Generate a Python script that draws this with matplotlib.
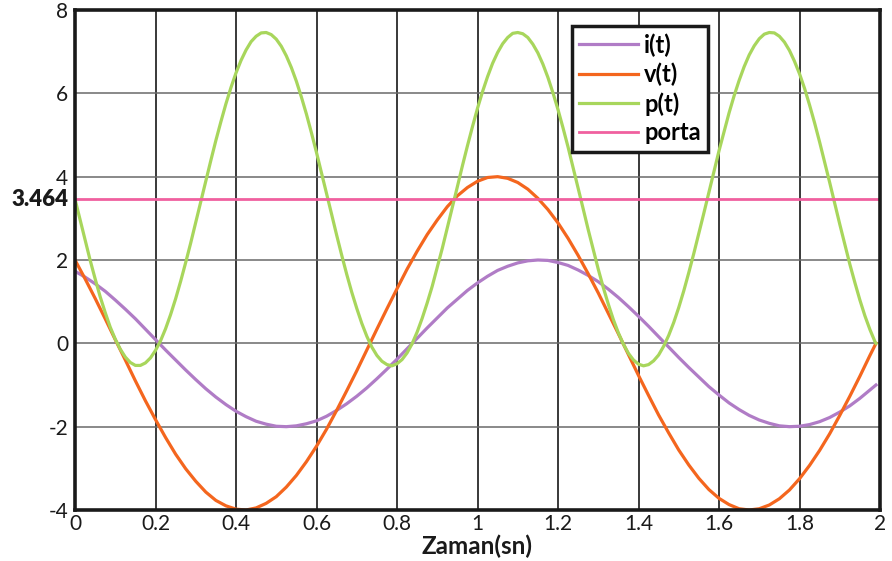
import matplotlib
matplotlib.use("Agg")
import matplotlib.pyplot as plt

# Sampled time axes (s)
t = [round(k * 0.025, 4) for k in range(80)] + [1.99]
t_p = [round(k * 0.0125, 4) for k in range(160)] + [1.99]

# Current i(t)
i_t = [1.73, 1.59, 1.43, 1.25, 1.04, 0.82, 0.59, 0.34, 0.09, -0.16, -0.40, -0.64, -0.87, -1.09,
       -1.29, -1.47, -1.63, -1.76, -1.87, -1.94, -1.99, -2.00, -1.98, -1.93, -1.86, -1.75, -1.61,
       -1.45, -1.27, -1.07, -0.85, -0.62, -0.38, -0.13, 0.12, 0.37, 0.61, 0.85, 1.06, 1.27, 1.45,
       1.61, 1.75, 1.85, 1.93, 1.98, 2.00, 1.99, 1.94, 1.87, 1.76, 1.63, 1.48, 1.30, 1.10, 0.88,
       0.65, 0.41, 0.16, -0.09, -0.34, -0.58, -0.81, -1.04, -1.24, -1.43, -1.59, -1.73, -1.84,
       -1.92, -1.98, -2.00, -1.99, -1.95, -1.88, -1.78, -1.65, -1.50, -1.32, -1.12, -1.00]

# Voltage v(t)
v_t = [2.00, 1.55, 1.08, 0.59, 0.09, -0.40, -0.90, -1.38, -1.83, -2.26, -2.66, -3.01, -3.31, -3.57,
       -3.77, -3.90, -3.98, -4.00, -3.95, -3.84, -3.68, -3.45, -3.17, -2.84, -2.47, -2.06, -1.61,
       -1.14, -0.66, -0.16, 0.34, 0.83, 1.31, 1.78, 2.21, 2.61, 2.96, 3.28, 3.54, 3.74, 3.89, 3.98,
       4.00, 3.96, 3.86, 3.70, 3.48, 3.21, 2.89, 2.52, 2.11, 1.67, 1.21, 0.72, 0.23, -0.27, -0.77,
       -1.25, -1.72, -2.15, -2.56, -2.92, -3.24, -3.51, -3.72, -3.87, -3.97, -4.00, -3.97, -3.88,
       -3.73, -3.52, -3.25, -2.93, -2.57, -2.17, -1.73, -1.27, -0.79, -0.29, 0.00]

# Instantaneous power p(t)
p_t = [3.46, 2.97, 2.47, 2.00, 1.55, 1.12, 0.74, 0.39, 0.10, -0.14, -0.33, -0.46, -0.53, -0.53,
       -0.47, -0.35, -0.17, 0.06, 0.35, 0.69, 1.07, 1.49, 1.94, 2.41, 2.90, 3.40, 3.90, 4.39, 4.87,
       5.32, 5.75, 6.14, 6.49, 6.79, 7.04, 7.24, 7.37, 7.45, 7.46, 7.41, 7.30, 7.13, 6.90, 6.62,
       6.29, 5.91, 5.50, 5.05, 4.58, 4.09, 3.60, 3.10, 2.60, 2.12, 1.66, 1.23, 0.84, 0.48, 0.17,
       -0.09, -0.29, -0.43, -0.51, -0.54, -0.49, -0.39, -0.23, -0.01, 0.27, 0.60, 0.97, 1.37, 1.82,
       2.28, 2.77, 3.27, 3.76, 4.26, 4.74, 5.20, 5.64, 6.04, 6.40, 6.72, 6.98, 7.19, 7.34, 7.44,
       7.46, 7.43, 7.34, 7.18, 6.97, 6.70, 6.38, 6.01, 5.61, 5.17, 4.71, 4.22, 3.73, 3.23, 2.73,
       2.25, 1.78, 1.34, 0.94, 0.57, 0.25, -0.02, -0.24, -0.40, -0.50, -0.54, -0.51, -0.42, -0.28,
       -0.07, 0.19, 0.50, 0.86, 1.26, 1.70, 2.16, 2.64, 3.13, 3.63, 4.13, 4.62, 5.08, 5.53, 5.94,
       6.31, 6.64, 6.92, 7.14, 7.31, 7.42, 7.46, 7.45, 7.37, 7.23, 7.03, 6.77, 6.47, 6.12, 5.72,
       5.29, 4.83, 4.35, 3.86, 3.36, 2.86, 2.38, 1.90, 1.46, 1.04, 0.66, 0.33, 0.04, 0.00]

# Average power
p_avg = 3.464

x_ticks = [0, 0.2, 0.4, 0.6, 0.8, 1, 1.2, 1.4, 1.6, 1.8, 2]
x_labels = ["0", "0.2", "0.4", "0.6", "0.8", "1", "1.2", "1.4", "1.6", "1.8", "2"]
y_ticks = [-4, -2, 0, 2, 4, 6, 8]

plt.rcParams["font.family"] = ["Lato", "DejaVu Sans"]

fig = plt.figure(figsize=(8.92, 5.61), dpi=100)
ax = fig.add_axes([75 / 892, 1 - 510 / 561, 805 / 892, 500 / 561])

ax.set_xlim(0, 2)
ax.set_ylim(-4, 8)

# grid: dark verticals, grey horizontals
for xv in x_ticks[1:-1]:
    ax.axvline(xv, color="#2a2a2a", lw=1.3, zorder=1)
for yv in y_ticks[1:-1]:
    ax.axhline(yv, color="#6a6a6a", lw=1.1, zorder=1)

lw = 2.3
ax.plot(t, i_t, color="#b07cc6", lw=lw, label="i(t)", zorder=3)
ax.plot(t, v_t, color="#f4661e", lw=lw, label="v(t)", zorder=3)
ax.plot(t_p, p_t, color="#a8d65c", lw=lw, label="p(t)", zorder=3)
ax.axhline(p_avg, color="#f0609f", lw=2.0, label="porta", zorder=3)

for s in ax.spines.values():
    s.set_linewidth(2.6)
    s.set_color("#1a1a1a")
    s.set_zorder(5)

ax.set_xticks(x_ticks)
ax.set_xticklabels(x_labels)
ax.set_yticks(y_ticks)
ax.set_yticklabels([str(y) for y in y_ticks])
ax.tick_params(length=0, labelsize=15, colors="#1a1a1a", pad=5)
ax.tick_params(axis="x", pad=3)
ax.text(-0.008, p_avg, f"{p_avg:.3f}", transform=ax.get_yaxis_transform(),
        ha="right", va="center", fontsize=16, fontweight="heavy", color="#1a1a1a")

ax.set_xlabel("Zaman(sn)", fontsize=17.5, fontweight="bold", color="#1a1a1a", labelpad=0)

leg = ax.legend(loc="upper left", bbox_to_anchor=(572 / 892, 1 - 26 / 561),
                bbox_transform=fig.transFigure, frameon=True, fancybox=False,
                framealpha=1, edgecolor="#1a1a1a", borderpad=0.3, labelspacing=0.25,
                handlelength=2.5, handletextpad=0.25, borderaxespad=0,
                prop={"weight": "bold", "size": 17})
leg.get_frame().set_linewidth(2.5)
leg.set_zorder(6)

fig.savefig("out.png", dpi=100)
